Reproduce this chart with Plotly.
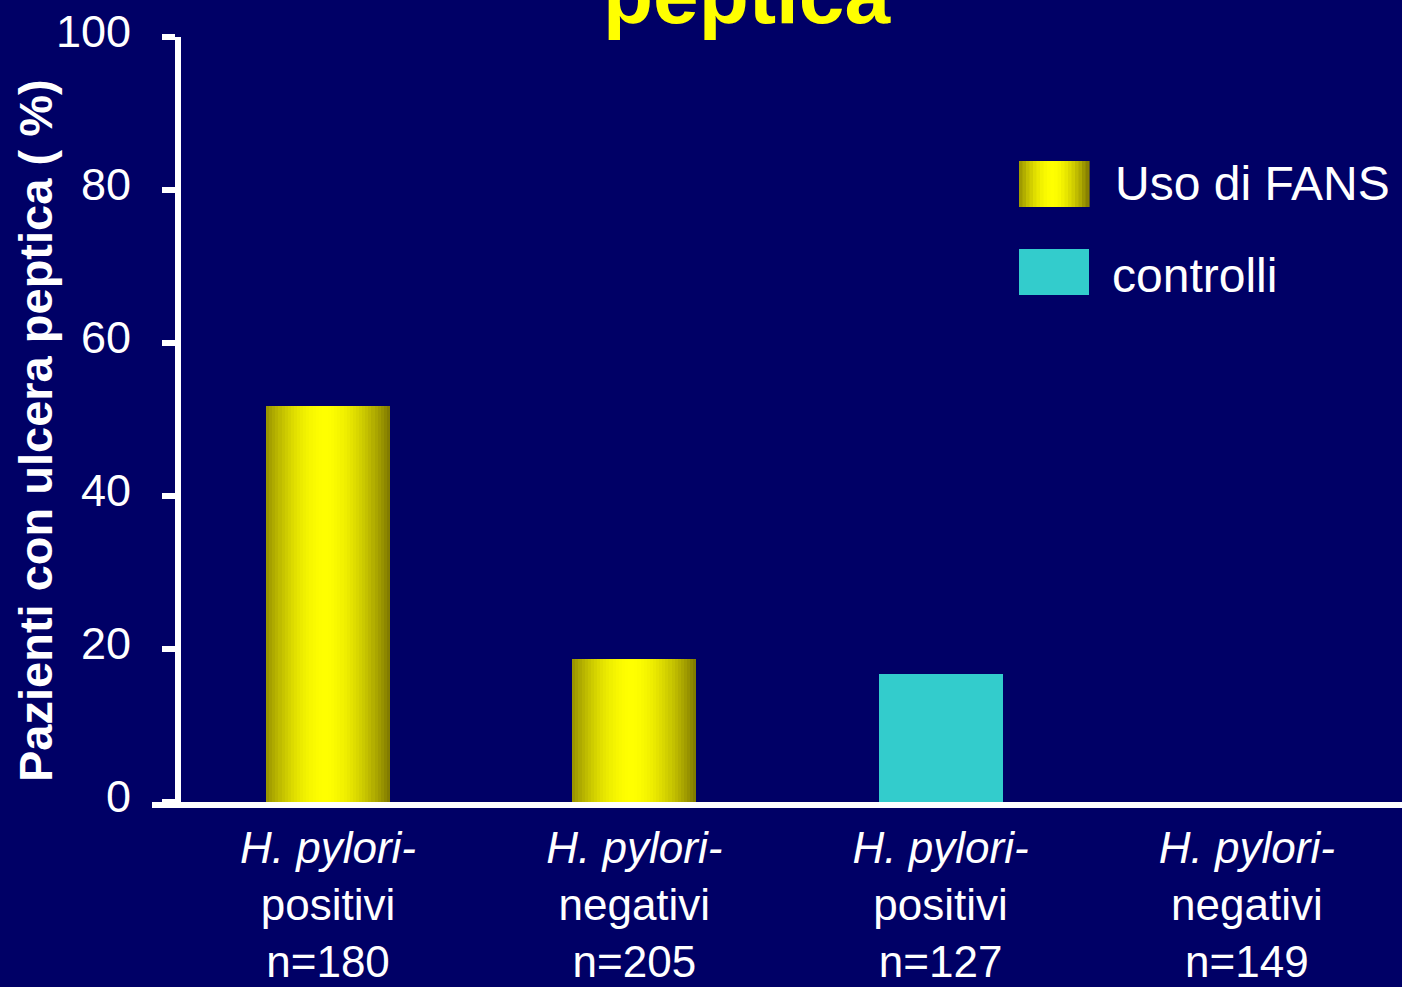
import plotly.graph_objects as go

# ---- data ----
cat_positions = [0, 1, 2, 3]
cat_labels = [
    "<i>H. pylori-</i><br>positivi<br>n=180",
    "<i>H. pylori-</i><br>negativi<br>n=205",
    "<i>H. pylori-</i><br>positivi<br>n=127",
    "<i>H. pylori-</i><br>negativi<br>n=149",
]
fans_x = [0, 1]
fans_values = [51.7, 18.7]
controlli_x = [2, 3]
controlli_values = [16.7, 0.0]
y_ticks = [0, 20, 40, 60, 80, 100]
series_names = ["Uso di FANS", "controlli"]
title_text = "peptica"
y_title = "Pazienti con ulcera peptica ( %)"

# ---- style ----
BG = "#000066"
CYAN = "#33CCCC"
FONT = "Liberation Sans, Arial, sans-serif"
W = 0.405
N = 40
EDGE = (125, 118, 0)
PEAK = (255, 255, 0)


def grad(t):
    d = min(1.0, abs(t - 0.47) / 0.53)
    s = max(0.0, 1 - d ** 1.8)
    c = [round(EDGE[k] + (PEAK[k] - EDGE[k]) * s) for k in range(3)]
    return f"rgb({c[0]},{c[1]},{c[2]})"


fig = go.Figure()

step = W / N
for i in range(N):
    off = -W / 2 + i * step
    wid = min(step * 1.8, W / 2 - off)
    fig.add_trace(go.Bar(
        x=fans_x, y=fans_values, offset=off, width=wid,
        marker=dict(color=grad((i + 0.5) / N), line=dict(width=0)),
        showlegend=False, hoverinfo="skip",
    ))

fig.add_trace(go.Bar(
    x=controlli_x, y=controlli_values, offset=-W / 2, width=W,
    marker=dict(color=CYAN, line=dict(width=0)),
    showlegend=False, name=series_names[1],
))

# plot geometry (pixels)
L, R, T, B = 181, 2, 37, 185
PW = 1402 - L - R
PH = 987 - T - B


def px(x):
    return (x - L) / PW


def py(y):
    return (987 - B - y) / PH


shapes = []
# x-axis baseline extended to the left
shapes.append(dict(type="line", xref="paper", yref="paper",
                   x0=px(152), x1=px(1402), y0=py(805), y1=py(805),
                   line=dict(color="white", width=6)))
# legend swatches
sx0, sx1 = 1019, 1089
M = 20
for i in range(M):
    a = sx0 + (sx1 - sx0) * i / M
    b = sx0 + (sx1 - sx0) * (i + 1) / M
    shapes.append(dict(type="rect", xref="paper", yref="paper",
                       x0=px(a), x1=px(b + 0.6), y0=py(207), y1=py(161),
                       fillcolor=grad((i + 0.5) / M), line=dict(width=0)))
shapes.append(dict(type="rect", xref="paper", yref="paper",
                   x0=px(sx0), x1=px(sx1), y0=py(295), y1=py(249),
                   fillcolor=CYAN, line=dict(width=0)))

annotations = [
    dict(text=series_names[0], xref="paper", yref="paper", x=px(1113), y=py(183),
         xanchor="left", yanchor="middle", showarrow=False,
         font=dict(family=FONT, size=48, color="white")),
    dict(text=series_names[1], xref="paper", yref="paper", x=px(1110), y=py(275),
         xanchor="left", yanchor="middle", showarrow=False,
         font=dict(family=FONT, size=48, color="white")),
    dict(text=f"<b>{y_title}</b>", xref="paper", yref="paper", x=px(36), y=py(431),
         xanchor="center", yanchor="middle", textangle=-90, showarrow=False,
         font=dict(family=FONT, size=47, color="white")),
    dict(text=f"<b>{title_text}</b>", xref="paper", yref="paper", x=px(747), y=py(42),
         xanchor="center", yanchor="bottom", showarrow=False,
         font=dict(family=FONT, size=82, color="#FFFF00")),
]

fig.update_layout(
    width=1402, height=987,
    margin=dict(l=L, r=R, t=T, b=B, pad=0),
    paper_bgcolor=BG, plot_bgcolor=BG,
    barmode="overlay", bargap=0,
    showlegend=False,
    shapes=shapes, annotations=annotations,
    font=dict(family=FONT, color="white"),
)
fig.update_xaxes(
    range=[-0.48, 3.5], tickvals=cat_positions, ticktext=cat_labels,
    showgrid=False, zeroline=False, showline=False, ticks="",
    tickfont=dict(family=FONT, size=44, color="white"),
    ticklabelstandoff=16,
)
fig.update_yaxes(
    range=[0, 100], tickvals=y_ticks,
    showgrid=False, zeroline=False, showline=True, linewidth=6, linecolor="white",
    ticks="outside", ticklen=13, tickwidth=6, tickcolor="white",
    tickfont=dict(family=FONT, size=45, color="white"),
    ticklabelstandoff=22, ticklabelshift=-6,
)

fig.write_html(
    "out.html",
    config={"displayModeBar": False},
    post_script="document.body.style.margin='0';document.body.style.padding='0';"
                "document.body.style.overflow='hidden';document.body.style.background='#000066';",
)
